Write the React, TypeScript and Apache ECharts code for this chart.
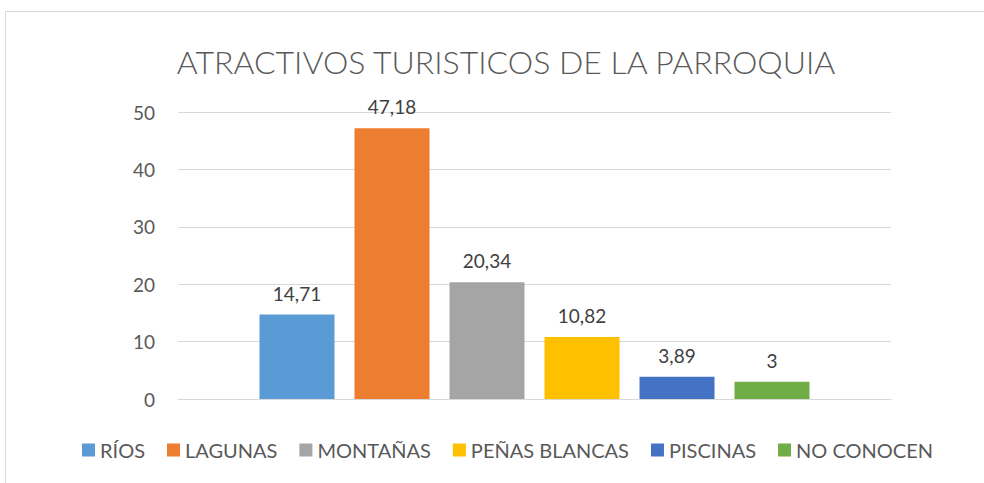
import React, { useEffect, useRef } from "react";
import * as echarts from "echarts";

const categories = ["Atractivos"];
const seriesNames = ["RÍOS", "LAGUNAS", "MONTAÑAS", "PEÑAS BLANCAS", "PISCINAS", "NO CONOCEN"];
const seriesValues = [14.71, 47.18, 20.34, 10.82, 3.89, 3];
const seriesColors = ["#5b9bd5", "#ed7d31", "#a5a5a5", "#ffc000", "#4472c4", "#70ad47"];

const FONT = "Lato, 'Open Sans', sans-serif";

export default function App() {
  const ref = useRef<HTMLDivElement>(null);
  useEffect(() => {
    if (!ref.current) return;
    const chart = echarts.init(ref.current, null, { renderer: "svg" });
    chart.setOption({
      animation: false,
      backgroundColor: "#ffffff",
      textStyle: { fontFamily: FONT },
      graphic: [
        {
          type: "rect",
          shape: { x: 5.5, y: 11.5, width: 1000, height: 600 },
          style: { fill: "none", stroke: "#d9d9d9", lineWidth: 1 },
          silent: true,
        },
      ],
      title: {
        text: "ATRACTIVOS TURISTICOS DE LA PARROQUIA",
        left: 501,
        top: 40,
        textAlign: "center",
        textStyle: { fontFamily: FONT, fontSize: 32, fontWeight: 300, color: "#595959" },
      },
      legend: {
        bottom: 18,
        left: 77,
        itemWidth: 13,
        itemHeight: 13,
        itemGap: 22,
        icon: "rect",
        textStyle: { fontFamily: FONT, fontSize: 20, color: "#595959" },
        data: seriesNames,
      },
      grid: { left: 178, right: 93, top: 112, bottom: 84, containLabel: false },
      xAxis: {
        type: "category",
        data: categories,
        axisLine: { show: true, lineStyle: { color: "#d9d9d9", width: 1 } },
        axisTick: { show: false },
        axisLabel: { show: false },
      },
      yAxis: {
        type: "value",
        min: 0,
        max: 50,
        interval: 10,
        axisLine: { show: false },
        axisTick: { show: false },
        axisLabel: { fontFamily: FONT, fontSize: 19, color: "#595959", margin: 23 },
        splitLine: { lineStyle: { color: "#d9d9d9", width: 1 } },
      },
      series: seriesNames.map((name, i) => ({
        name,
        type: "bar",
        data: [seriesValues[i]],
        barWidth: 75,
        barGap: "26.67%",
        itemStyle: { color: seriesColors[i] },
        label: {
          show: true,
          position: "top",
          distance: 12,
          fontFamily: FONT,
          fontSize: 19,
          color: "#404040",
          formatter: (p: any) => String(p.value).replace(".", ","),
        },
      })),
    });
    return () => chart.dispose();
  }, []);
  return <div ref={ref} style={{ width: 984, height: 483, position: "absolute", left: 0, top: 0 }} />;
}
